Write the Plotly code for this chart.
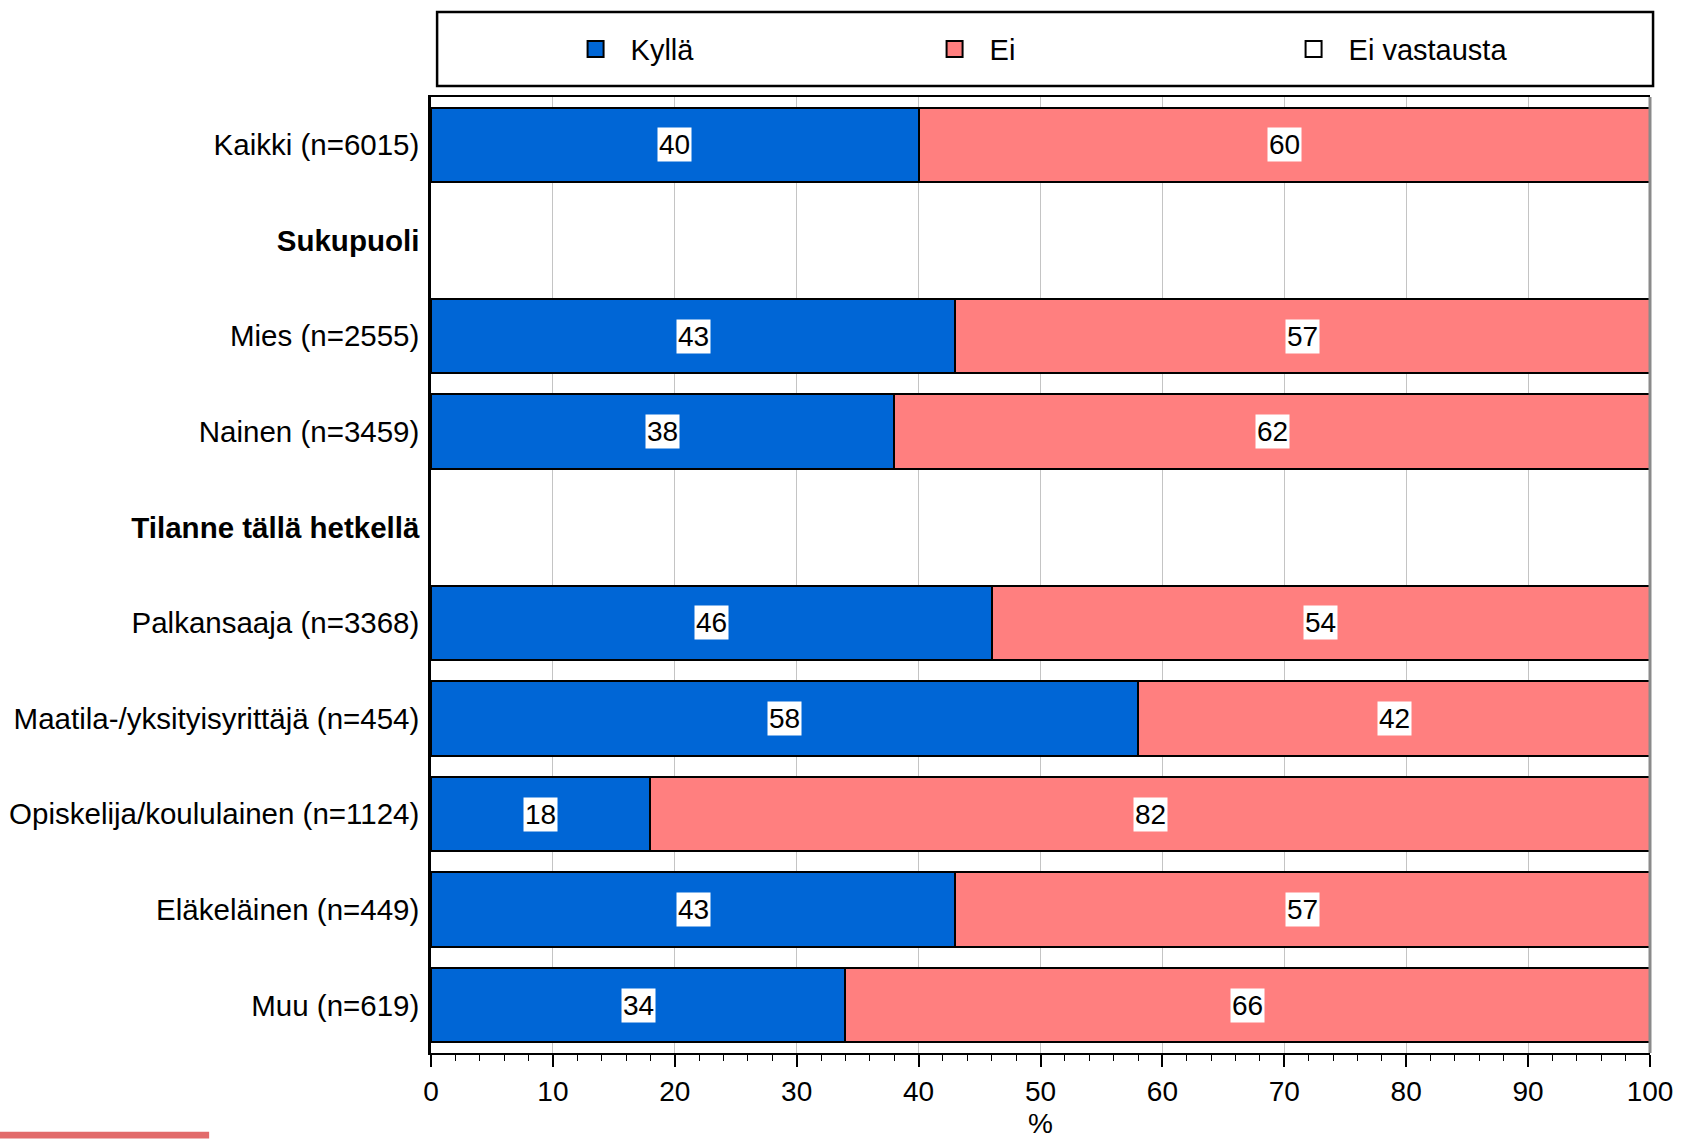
import plotly.graph_objects as go

categories = [
    "Kaikki (n=6015)",
    "<b>Sukupuoli</b>",
    "Mies (n=2555)",
    "Nainen (n=3459)",
    "<b>Tilanne tällä hetkellä</b>",
    "Palkansaaja (n=3368)",
    "Maatila-/yksityisyrittäjä (n=454)",
    "Opiskelija/koululainen (n=1124)",
    "Eläkeläinen (n=449)",
    "Muu (n=619)",
]
kylla = [40, None, 43, 38, None, 46, 58, 18, 43, 34]
ei = [60, None, 57, 62, None, 54, 42, 82, 57, 66]
ei_vastausta = [0, None, 0, 0, None, 0, 0, 0, 0, 0]

series_names = ["Kyllä", "Ei", "Ei vastausta"]
series_colors = ["#0066D6", "#FF7F7F", "#FFFFFF"]
x_ticks = [0, 10, 20, 30, 40, 50, 60, 70, 80, 90, 100]

FONT = "Liberation Sans, Arial, sans-serif"

fig = go.Figure()
for name, vals, col in zip(series_names, [kylla, ei, ei_vastausta], series_colors):
    fig.add_trace(go.Bar(
        y=categories, x=vals, name=name, orientation="h",
        marker=dict(color=col, line=dict(color="black", width=2)),
        width=0.78, showlegend=False, hoverinfo="x+y+name",
    ))
    # legend proxy with larger square symbol
    fig.add_trace(go.Scatter(
        x=[None], y=[None], mode="markers", name=name,
        marker=dict(symbol="square", size=16, color=col,
                    line=dict(color="black", width=2)),
        showlegend=True,
    ))

# value labels with white background
annotations = []
for cat, k, e in zip(categories, kylla, ei):
    if k is None:
        continue
    annotations.append(dict(x=k / 2, y=cat, xref="x", yref="y", text=str(k),
                            showarrow=False, bgcolor="white", borderpad=1,
                            font=dict(family=FONT, size=28, color="black")))
    annotations.append(dict(x=k + e / 2, y=cat, xref="x", yref="y", text=str(e),
                            showarrow=False, bgcolor="white", borderpad=1,
                            font=dict(family=FONT, size=28, color="black")))

fig.update_layout(
    width=1682, height=1139,
    margin=dict(l=431, r=32, t=97, b=86, autoexpand=False),
    paper_bgcolor="white", plot_bgcolor="white",
    barmode="stack",
    font=dict(family=FONT, size=29, color="black"),
    annotations=annotations,
    legend=dict(orientation="h", traceorder="normal",
                x=0.1063, xanchor="left", y=1.05, yanchor="middle",
                itemwidth=60, entrywidth=284, entrywidthmode="pixels",
                bgcolor="rgba(0,0,0,0)", borderwidth=0,
                font=dict(family=FONT, size=29, color="black")),
    shapes=[
        # legend frame
        dict(type="rect", xref="paper", yref="paper", x0=0.005, x1=1.0025,
             y0=1.0115, y1=1.089, line=dict(color="black", width=2.5),
             fillcolor="rgba(0,0,0,0)", layer="above"),
        # right frame edge (grey)
        dict(type="line", xref="paper", yref="paper", x0=1, x1=1, y0=0, y1=1,
             line=dict(color="#8a8a8a", width=3), layer="above"),
        # decorative pink strip bottom-left
        dict(type="rect", xref="paper", yref="paper", x0=-0.3536, x1=-0.182,
             y0=-0.0895, y1=-0.0825, line=dict(width=0), fillcolor="#E26B6B"),
    ],
)

fig.update_xaxes(
    range=[0, 100], tickvals=x_ticks, ticktext=[str(v) for v in x_ticks],
    showgrid=True, gridcolor="#C4C4C4", gridwidth=1,
    showline=True, linecolor="black", linewidth=2, mirror=True,
    ticks="outside", ticklen=12, tickwidth=1.5, tickcolor="black",
    minor=dict(dtick=2, ticks="outside", ticklen=6, tickwidth=1.2,
               tickcolor="black", showgrid=False),
    tickfont=dict(family=FONT, size=28, color="black"),
    title=dict(text="%", standoff=21, font=dict(family=FONT, size=28, color="black")),
    zeroline=False, fixedrange=True,
)
fig.update_yaxes(
    type="category", categoryorder="array", categoryarray=categories,
    range=[9.5, -0.5],
    showgrid=False, showline=True, linecolor="black", linewidth=2.5, mirror=False,
    ticks="", ticklabelstandoff=3,
    tickfont=dict(family=FONT, size=29.5, color="black"),
    zeroline=False, fixedrange=True,
)

fig.write_html("out.html", config={"displayModeBar": False},
               post_script="document.body.style.margin='0';document.body.style.overflow='hidden';")
